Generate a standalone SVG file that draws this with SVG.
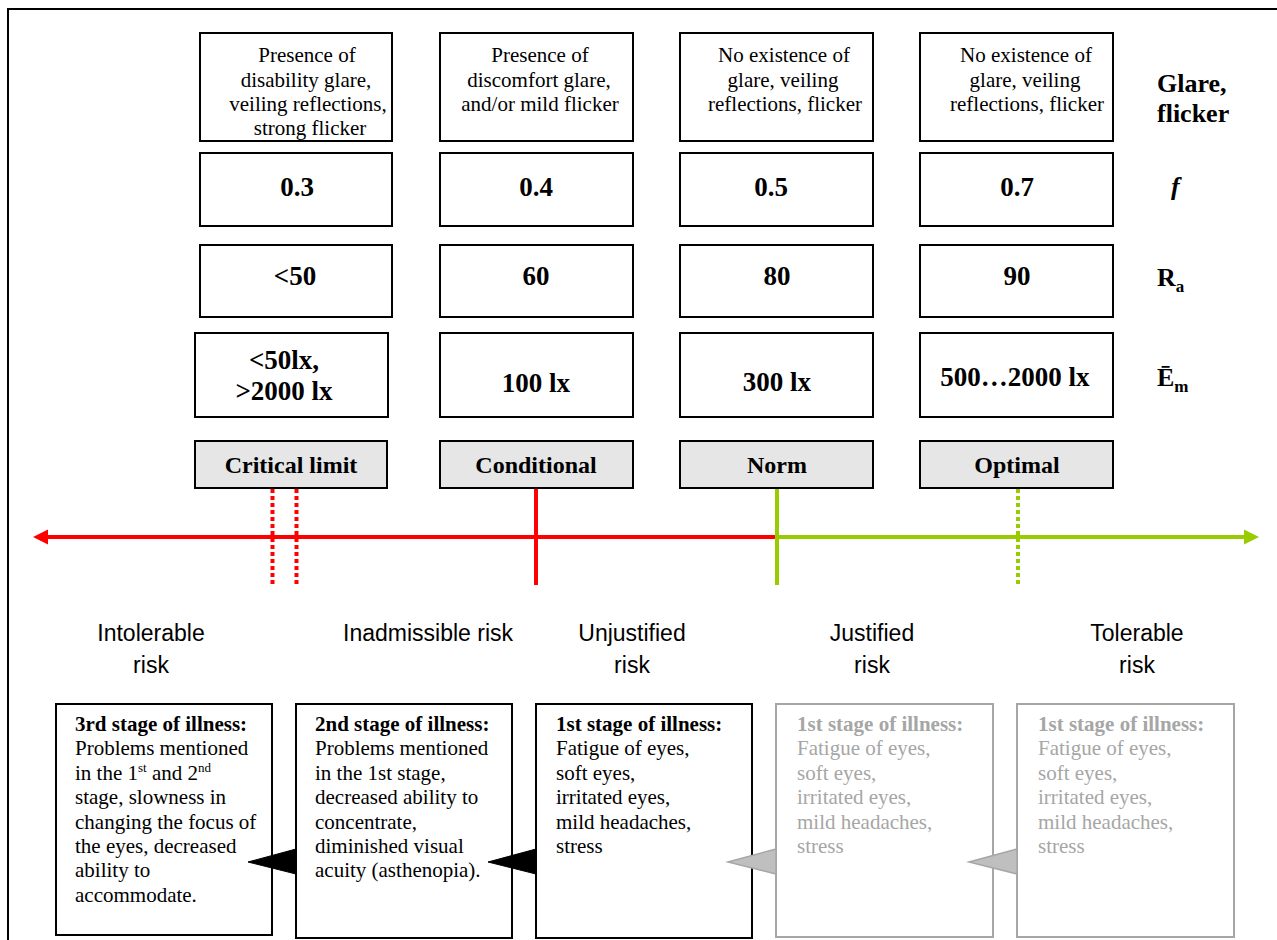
<svg xmlns="http://www.w3.org/2000/svg" width="1277" height="940" viewBox="0 0 1277 940">
<style>
.box{fill:#fff;stroke:#000;stroke-width:2}
.lab{fill:#e6e6e6;stroke:#000;stroke-width:2}
.gbox{fill:#fff;stroke:#a6a6a6;stroke-width:2}
.t{font-family:"Liberation Serif","Times New Roman",serif;font-size:21px;fill:#000}
.tc{font-family:"Liberation Serif","Times New Roman",serif;font-size:21px;fill:#000;text-anchor:middle}
.v{font-family:"Liberation Serif","Times New Roman",serif;font-size:27px;font-weight:bold;fill:#000;text-anchor:middle}
.l{font-family:"Liberation Serif","Times New Roman",serif;font-size:24px;font-weight:bold;fill:#000;text-anchor:middle}
.r{font-family:"Liberation Serif","Times New Roman",serif;font-size:26px;font-weight:bold;fill:#000}
.risk{font-family:"Liberation Sans",Arial,sans-serif;font-size:23px;fill:#000;text-anchor:middle}
.g{fill:#a6a6a6}
.b{font-weight:bold}
.red{stroke:#ff0000;stroke-width:4;fill:none}
.grn{stroke:#99cc00;stroke-width:4;fill:none}
.dot{stroke-dasharray:4 3}
</style>
<path d="M8,940 V9 H1277" fill="none" stroke="#000" stroke-width="2"/>

<g id="glare1"><rect class="box" x="200" y="33" width="192" height="108"/>
<text class="tc" x="307"><tspan x="307" y="62">Presence of</tspan><tspan x="306" y="86.5">disability glare,</tspan><tspan x="308" y="111">veiling reflections,</tspan><tspan x="310" y="135">strong flicker</tspan></text></g>
<g id="glare2"><rect class="box" x="440" y="33" width="193" height="108"/>
<text class="tc"><tspan x="540" y="62">Presence of</tspan><tspan x="539" y="86.5">discomfort glare,</tspan><tspan x="540" y="111">and/or mild flicker</tspan></text></g>
<g id="glare3"><rect class="box" x="680" y="33" width="193" height="108"/>
<text class="tc"><tspan x="784" y="62">No existence of</tspan><tspan x="783" y="86.5">glare, veiling</tspan><tspan x="785" y="111">reflections, flicker</tspan></text></g>
<g id="glare4"><rect class="box" x="920" y="33" width="193" height="108"/>
<text class="tc"><tspan x="1026" y="62">No existence of</tspan><tspan x="1025" y="86.5">glare, veiling</tspan><tspan x="1027" y="111">reflections, flicker</tspan></text></g>
<g id="label-glare"><text class="r"><tspan x="1157" y="92">Glare,</tspan><tspan x="1157" y="122">flicker</tspan></text></g>

<g id="f1"><rect class="box" x="200" y="153" width="192" height="73"/><text class="v" x="297" y="196">0.3</text></g>
<g id="f2"><rect class="box" x="440" y="153" width="193" height="73"/><text class="v" x="536" y="196">0.4</text></g>
<g id="f3"><rect class="box" x="680" y="153" width="193" height="73"/><text class="v" x="771" y="196">0.5</text></g>
<g id="f4"><rect class="box" x="920" y="153" width="193" height="73"/><text class="v" x="1017" y="196">0.7</text></g>
<g id="label-f"><text class="r" x="1171" y="195" font-style="italic">f</text></g>

<g id="ra1"><rect class="box" x="200" y="245" width="192" height="72"/><text class="v" x="295" y="285">&lt;50</text></g>
<g id="ra2"><rect class="box" x="440" y="245" width="193" height="72"/><text class="v" x="536" y="285">60</text></g>
<g id="ra3"><rect class="box" x="680" y="245" width="193" height="72"/><text class="v" x="777" y="285">80</text></g>
<g id="ra4"><rect class="box" x="920" y="245" width="193" height="72"/><text class="v" x="1017" y="285">90</text></g>
<g id="label-ra"><text class="r" x="1157" y="286">R<tspan font-size="17" dy="6">a</tspan></text></g>

<g id="em1"><rect class="box" x="195" y="333" width="193" height="84"/><text class="v"><tspan x="284" y="369">&lt;50lx,</tspan><tspan x="284" y="400">&gt;2000 lx</tspan></text></g>
<g id="em2"><rect class="box" x="440" y="333" width="193" height="84"/><text class="v" x="536" y="392">100 lx</text></g>
<g id="em3"><rect class="box" x="680" y="333" width="193" height="84"/><text class="v" x="777" y="391">300 lx</text></g>
<g id="em4"><rect class="box" x="920" y="333" width="193" height="84"/><text class="v" x="1015" y="386">500…2000 lx</text></g>
<g id="label-em"><text class="r" x="1157" y="386">Ē<tspan font-size="17" dy="6">m</tspan></text></g>

<g id="lab-critical"><rect class="lab" x="195" y="441" width="192" height="47"/><text class="l" x="291" y="473">Critical limit</text></g>
<g id="lab-conditional"><rect class="lab" x="440" y="441" width="193" height="47"/><text class="l" x="536" y="473">Conditional</text></g>
<g id="lab-norm"><rect class="lab" x="680" y="441" width="193" height="47"/><text class="l" x="777" y="473">Norm</text></g>
<g id="lab-optimal"><rect class="lab" x="920" y="441" width="193" height="47"/><text class="l" x="1017" y="473">Optimal</text></g>

<g id="connectors">
<line class="red" x1="46" y1="537" x2="777" y2="537"/>
<polygon points="33,537 48,529.5 48,544.5" fill="#ff0000"/>
<line class="grn" x1="775" y1="537" x2="1246" y2="537"/>
<polygon points="1259,537 1244,529.5 1244,544.5" fill="#99cc00"/>
<line class="red dot" x1="272.5" y1="489" x2="272.5" y2="585"/>
<line class="red dot" x1="296.5" y1="489" x2="296.5" y2="585"/>
<line class="red" x1="536" y1="489" x2="536" y2="585"/>
<line class="grn" x1="777" y1="489" x2="777" y2="585"/>
<line class="grn dot" x1="1018" y1="489" x2="1018" y2="585"/>
</g>

<g id="risk-labels">
<text class="risk"><tspan x="151" y="641">Intolerable</tspan><tspan x="151" y="673">risk</tspan></text>
<text class="risk" x="428" y="641">Inadmissible risk</text>
<text class="risk"><tspan x="632" y="641">Unjustified</tspan><tspan x="632" y="673">risk</tspan></text>
<text class="risk"><tspan x="872" y="641">Justified</tspan><tspan x="872" y="673">risk</tspan></text>
<text class="risk"><tspan x="1137" y="641">Tolerable</tspan><tspan x="1137" y="673">risk</tspan></text>
</g>

<g id="stage3"><rect class="box" x="56" y="704" width="216" height="231"/>
<text class="t"><tspan class="b" x="75" y="731">3rd stage of illness:</tspan><tspan x="75" y="755.4">Problems mentioned</tspan><tspan x="75" y="779.8">in the 1<tspan font-size="13" dy="-8">st</tspan><tspan dy="8"> and 2</tspan><tspan font-size="13" dy="-8">nd</tspan></tspan><tspan x="75" y="804.2">stage, slowness in</tspan><tspan x="75" y="828.6">changing the focus of</tspan><tspan x="75" y="853">the eyes, decreased</tspan><tspan x="75" y="877.4">ability to</tspan><tspan x="75" y="901.8">accommodate.</tspan></text></g>

<g id="stage2"><rect class="box" x="296" y="704" width="216" height="234"/>
<polygon points="248,862 296,849 296,874" fill="#000" stroke="#000" stroke-width="1"/>
<text class="t"><tspan class="b" x="315" y="731">2nd stage of illness:</tspan><tspan x="315" y="755.4">Problems mentioned</tspan><tspan x="315" y="779.8">in the 1st stage,</tspan><tspan x="315" y="804.2">decreased ability to</tspan><tspan x="315" y="828.6">concentrate,</tspan><tspan x="315" y="853">diminished visual</tspan><tspan x="315" y="877.4">acuity (asthenopia).</tspan></text></g>

<g id="stage1a"><rect class="box" x="536" y="704" width="216" height="234"/>
<polygon points="488,862 536,849 536,874" fill="#000" stroke="#000" stroke-width="1"/>
<text class="t"><tspan class="b" x="556" y="731">1st stage of illness:</tspan><tspan x="556" y="755.4">Fatigue of eyes,</tspan><tspan x="556" y="779.8">soft eyes,</tspan><tspan x="556" y="804.2">irritated eyes,</tspan><tspan x="556" y="828.6">mild headaches,</tspan><tspan x="556" y="853">stress</tspan></text></g>

<g id="stage1b"><rect class="gbox" x="776" y="704" width="217" height="233"/>
<polygon points="728,862 776,849 776,874" fill="#bfbfbf" stroke="#a6a6a6" stroke-width="1.5"/>
<text class="t g"><tspan class="b" x="797" y="731">1st stage of illness:</tspan><tspan x="797" y="755.4">Fatigue of eyes,</tspan><tspan x="797" y="779.8">soft eyes,</tspan><tspan x="797" y="804.2">irritated eyes,</tspan><tspan x="797" y="828.6">mild headaches,</tspan><tspan x="797" y="853">stress</tspan></text></g>

<g id="stage1c"><rect class="gbox" x="1017" y="704" width="217" height="233"/>
<polygon points="969,862 1017,849 1017,874" fill="#bfbfbf" stroke="#a6a6a6" stroke-width="1.5"/>
<text class="t g"><tspan class="b" x="1038" y="731">1st stage of illness:</tspan><tspan x="1038" y="755.4">Fatigue of eyes,</tspan><tspan x="1038" y="779.8">soft eyes,</tspan><tspan x="1038" y="804.2">irritated eyes,</tspan><tspan x="1038" y="828.6">mild headaches,</tspan><tspan x="1038" y="853">stress</tspan></text></g>
</svg>
